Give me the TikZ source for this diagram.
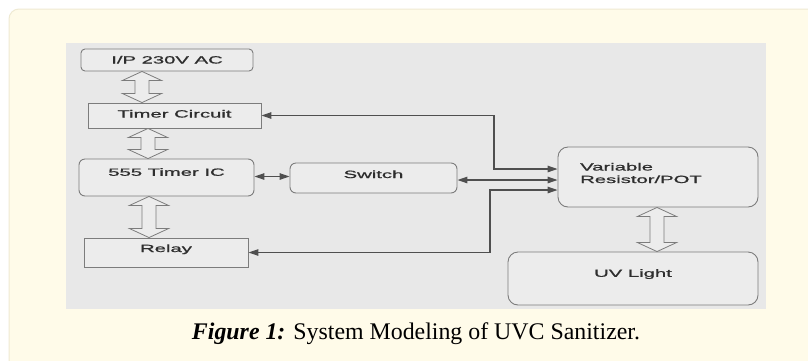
\documentclass[tikz,border=0pt]{standalone}
\usepackage{graphicx}
\usepackage{fontspec}
\setmainfont{Liberation Serif}
\newfontfamily\boxfont[FakeBold=0.9]{Liberation Sans}
\usetikzlibrary{arrows.meta,calc}

\definecolor{panel}{HTML}{FFFBE9}
\definecolor{panelline}{HTML}{EFEAD3}
\definecolor{diagbg}{HTML}{E8E8E8}
\definecolor{boxfill}{HTML}{ECECEC}
\definecolor{boxline}{HTML}{7C7C7C}
\definecolor{wirecol}{HTML}{4F4F4F}
\definecolor{ink}{HTML}{2E2E2E}

% horizontally widened box lettering
\newcommand\widetxt[1]{\scalebox{1.93}[1]{#1}}

% open double-headed block arrow: #1 upper tip, #2 a point on the lower tip's level
\newcommand\hollowarrow[2]{%
  \draw[hollow] let \p1=#1, \p2=#2 in
    (\x1,\y1) -- (\x1+19.5pt,\y1-9pt) -- (\x1+7pt,\y1-9pt)
    -- (\x1+7pt,\y2+9pt) -- (\x1+19.5pt,\y2+9pt) -- (\x1,\y2)
    -- (\x1-19.5pt,\y2+9pt) -- (\x1-7pt,\y2+9pt)
    -- (\x1-7pt,\y1-9pt) -- (\x1-19.5pt,\y1-9pt) -- cycle;}

\begin{document}
\begin{tikzpicture}[x=1pt,y=-1pt,
  blk/.style={draw=boxline,line width=0.9pt,fill=boxfill,inner sep=0pt},
  sqbox/.style={blk},
  rbox/.style={blk,rounded corners=#1},
  rbox/.default=5pt,
  lbl/.style={font=\boxfont\fontsize{10.5}{13}\selectfont,text=ink,inner sep=0pt},
  wire/.style={draw=wirecol,line width=1.2pt,
    {Triangle[length=10pt,width=6.5pt]}-{Triangle[length=10pt,width=6.5pt]}},
  hollow/.style={draw=boxline,line width=0.8pt,fill=boxfill,line join=miter}]

\useasboundingbox (0,0) rectangle (808,360);
\clip (0,0) rectangle (808,360);

% page, cream panel and grey diagram field
\fill[white] (0,0) rectangle (808,360);
\draw[panelline,fill=panel,line width=1pt,rounded corners=10pt] (9,9) rectangle (840,390);
\fill[diagbg] (66,43) rectangle (766,309);

% blocks
\node[rbox=4pt,minimum width=172pt,minimum height=22pt] (ip) at (167,60) {};
\node[sqbox,minimum width=173pt,minimum height=25pt] (tc) at (174.5,115.5) {};
\node[rbox=6pt,minimum width=175pt,minimum height=37pt] (ic) at (166.5,177.5) {};
\node[rbox=6pt,minimum width=167pt,minimum height=30pt] (sw) at (373.5,178) {};
\node[sqbox,minimum width=164pt,minimum height=29pt] (rl) at (166,252.5) {};
\node[rbox=10pt,minimum width=200pt,minimum height=60pt] (vr) at (658,177) {};
\node[rbox=10pt,minimum width=250pt,minimum height=53pt] (uv) at (633,278.5) {};

% block captions
\node[lbl,anchor=base] (iptxt) at (167,63.5) {\widetxt{I/P 230V AC}};
\node[lbl,anchor=base] (tctxt) at (174.5,117.5) {\widetxt{Timer Circuit}};
\node[lbl,anchor=base] (ictxt) at (166.5,175.8) {\widetxt{555 Timer IC}};
\node[lbl,anchor=base] (swtxt) at (373.5,178) {\widetxt{Switch}};
\node[lbl,anchor=base] (rltxt) at (166,252) {\widetxt{Relay}};
\node[lbl,anchor=base west] (vrtxta) at (580,170.5) {\widetxt{Variable}};
\node[lbl,anchor=base west] (vrtxtb) at (580,183) {\widetxt{Resistor/POT}};
\node[lbl,anchor=base] (uvtxt) at (633,276.8) {\widetxt{UV Light}};

% open block arrows between stacked blocks
\hollowarrow{($(ip.south)+(-25,0)$)}{(tc.north)}
\hollowarrow{($(tc.south)+(-26.5,0)$)}{(ic.north)}
\hollowarrow{($(ic.south)+(-17.5,0)$)}{(rl.north)}
\hollowarrow{($(vr.south)+(-1,0)$)}{(uv.north)}

% signal lines
\coordinate (j1) at (494,169);
\coordinate (j2) at (558,180);
\coordinate (j3) at (490,190);
\draw[wire] (tc.east) -| (j1) -- (j1 -| vr.west);
\draw[wire] (j2 -| sw.east) -- (j2 -| vr.west);
\draw[wire] (rl.east) -| (j3) -- (j3 -| vr.west);
\draw[wire] (ic.east |- 0,176.5) -- (sw.west |- 0,176.5);

% figure caption
\node[anchor=base,inner sep=0pt,text=black] (caption) at (416,339)
  {\resizebox{448pt}{!}{\textbf{\textit{Figure 1:}} System Modeling of UVC Sanitizer.}};
\end{tikzpicture}
\end{document}
